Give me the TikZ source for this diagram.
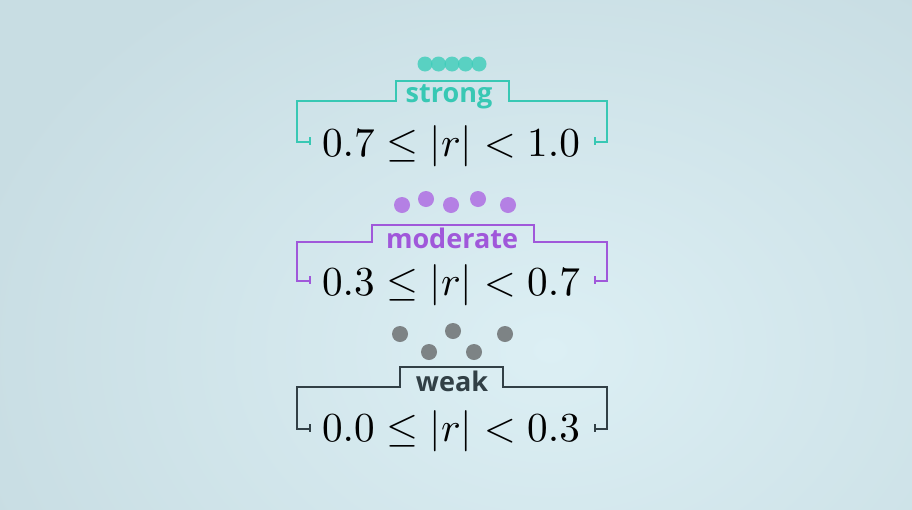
\documentclass[tikz,border=0pt]{standalone}
\usepackage{fontspec}
\setsansfont{Open Sans}
\definecolor{bgA}{RGB}{200,221,227}
\definecolor{bgB}{RGB}{220,239,244}
\definecolor{cstrong}{RGB}{56,200,180}
\definecolor{cdot}{RGB}{60,205,185}
\definecolor{cmod}{RGB}{160,88,218}
\definecolor{cmoddot}{RGB}{180,128,228}
\definecolor{cweak}{RGB}{50,64,70}
\definecolor{cgray}{RGB}{125,131,133}
\begin{document}
\begin{tikzpicture}[x=1pt,y=-1pt,
  brk/.style={line width=2pt},
  lbl/.style={font=\sffamily\bfseries\fontsize{27}{30}\selectfont, inner sep=0pt},
  mth/.style={scale=4.12, inner sep=0pt, anchor=base}]
\useasboundingbox (0,0) rectangle (912,509);
\begin{scope}
\clip (0,0) rectangle (912,509);
\fill[bgA] (0,0) rectangle (912,509);
\shade[inner color=bgB, outer color=bgA] (-50,-100) rectangle (1150,800);
\end{scope}
% strong
\foreach \x in {425,438.5,452,465.5,479}
  \fill[cdot, opacity=0.8] (\x,64) circle (7.5);
\node[lbl, text=cstrong] (ls) at (449,97) {strong};
\node[mth] (ms) at (451,156) {$0.7\leq|r|<1.0$};
\draw[brk, cstrong] (310,142) -- (297,142) -- (297,101) -- (396,101) -- (396,81) -- (509,81) -- (509,101) -- (607,101) -- (607,142) -- (595,142);
\draw[brk, cstrong] (310,137) -- (310,145) (595,137) -- (595,145);
% moderate
\foreach \x/\y in {402/205,426/199,451/205,478/199,508/205}
  \fill[cmoddot] (\x,\y) circle (8);
\node[lbl, text=cmod] (lm) at (452,238) {moderate};
\node[mth] (mm) at (451,295) {$0.3\leq|r|<0.7$};
\draw[brk, cmod] (310,281) -- (297,281) -- (297,242) -- (372,242) -- (372,225) -- (534,225) -- (534,242) -- (607,242) -- (607,281) -- (595,281);
\draw[brk, cmod] (310,276) -- (310,284) (595,276) -- (595,284);
% weak
\foreach \x/\y in {400/334,429/352,453/331,474/352,505/334}
  \fill[cgray] (\x,\y) circle (8);
\node[lbl, text=cweak] (lw) at (452,381) {weak};
\node[mth] (mw) at (451,441) {$0.0\leq|r|<0.3$};
\draw[brk, cweak] (310,429) -- (297,429) -- (297,387) -- (400,387) -- (400,367) -- (503,367) -- (503,387) -- (607,387) -- (607,429) -- (595,429);
\draw[brk, cweak] (310,424) -- (310,432) (595,424) -- (595,432);
\end{tikzpicture}
\end{document}
